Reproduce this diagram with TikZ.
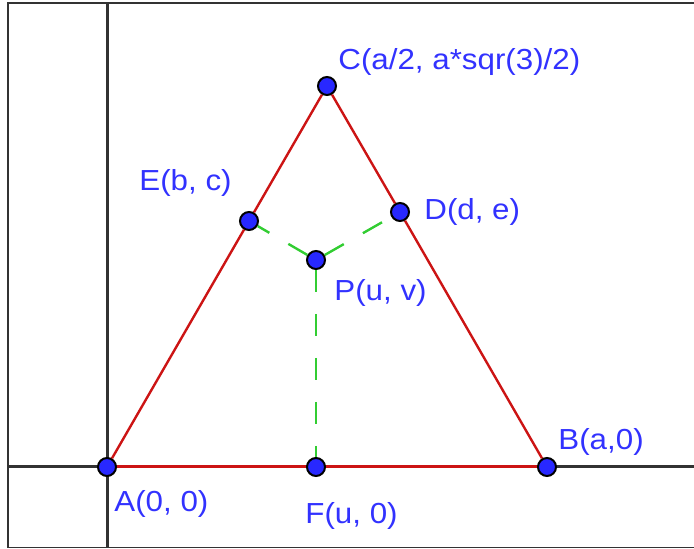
\documentclass[tikz,border=0pt]{standalone}
\usepackage{fontspec}
\setmainfont[FakeStretch=1.08]{Liberation Sans}

\definecolor{ptblue}{RGB}{40,40,255}
\definecolor{lblblue}{RGB}{50,50,255}
\definecolor{sidered}{RGB}{204,20,20}
\definecolor{perpgreen}{RGB}{50,205,50}
\definecolor{axisgray}{RGB}{50,50,50}

\tikzset{
  pt/.style={circle,fill=ptblue,draw=black,line width=1pt,minimum size=9pt,inner sep=0pt},
  lbl/.style={anchor=base west,inner sep=0pt,text=lblblue,font=\fontsize{14.5}{17}\selectfont},
  side/.style={draw=sidered,line width=1.2pt},
  perp/.style={draw=perpgreen,line width=1.2pt,dash pattern=on 11pt off 11pt},
  axis/.style={draw=axisgray,line width=1.5pt}
}

\begin{document}
\begin{tikzpicture}[x=0.5pt,y=0.5pt]

\useasboundingbox (-107,-82) rectangle (587,467);

% Frame
\draw[black!80,line width=0.9pt] (587,464) -- (-99,464) -- (-99,-80.5) -- (587,-80.5);

% Axes
\coordinate (xl) at (-99,0);
\coordinate (xr) at (587,0);
\coordinate (yb) at (0,-80.5);
\coordinate (yt) at (0,464);
\draw[axis] (xl) -- (xr);
\draw[axis] (yb) -- (yt);

% Points
\node[pt] (A) at (0,0) {};
\node[pt] (B) at (440,0) {};
\node[pt] (C) at (220,381) {};
\node[pt] (F) at (209,0) {};
\node[pt] (P) at (209,207) {};
\node[pt] (E) at (142,246) {};
\node[pt] (D) at (293,255) {};

% Triangle
\draw[side,line width=1.5pt] (A) -- (F);
\draw[side,line width=1.5pt] (F) -- (B);
\draw[side] (B) -- (D);
\draw[side] (D) -- (C);
\draw[side] (C) -- (E);
\draw[side] (E) -- (A);

% Perpendiculars from P
\draw[perp] (P) -- (E);
\draw[perp] (P) -- (D);
\draw[perp] (P) -- (F);

% Labels
\node[lbl] (labC) at (231,397) {C(a/2, a*sqr(3)/2)};
\node[lbl] (labE) at (32,276) {E(b, c)};
\node[lbl] (labD) at (317,247.5) {D(d, e)};
\node[lbl] (labP) at (227,166) {P(u, v)};
\node[lbl] (labB) at (451,17) {B(a,0)};
\node[lbl] (labA) at (7,-45) {A(0, 0)};
\node[lbl] (labF) at (198,-57) {F(u, 0)};

\end{tikzpicture}
\end{document}
